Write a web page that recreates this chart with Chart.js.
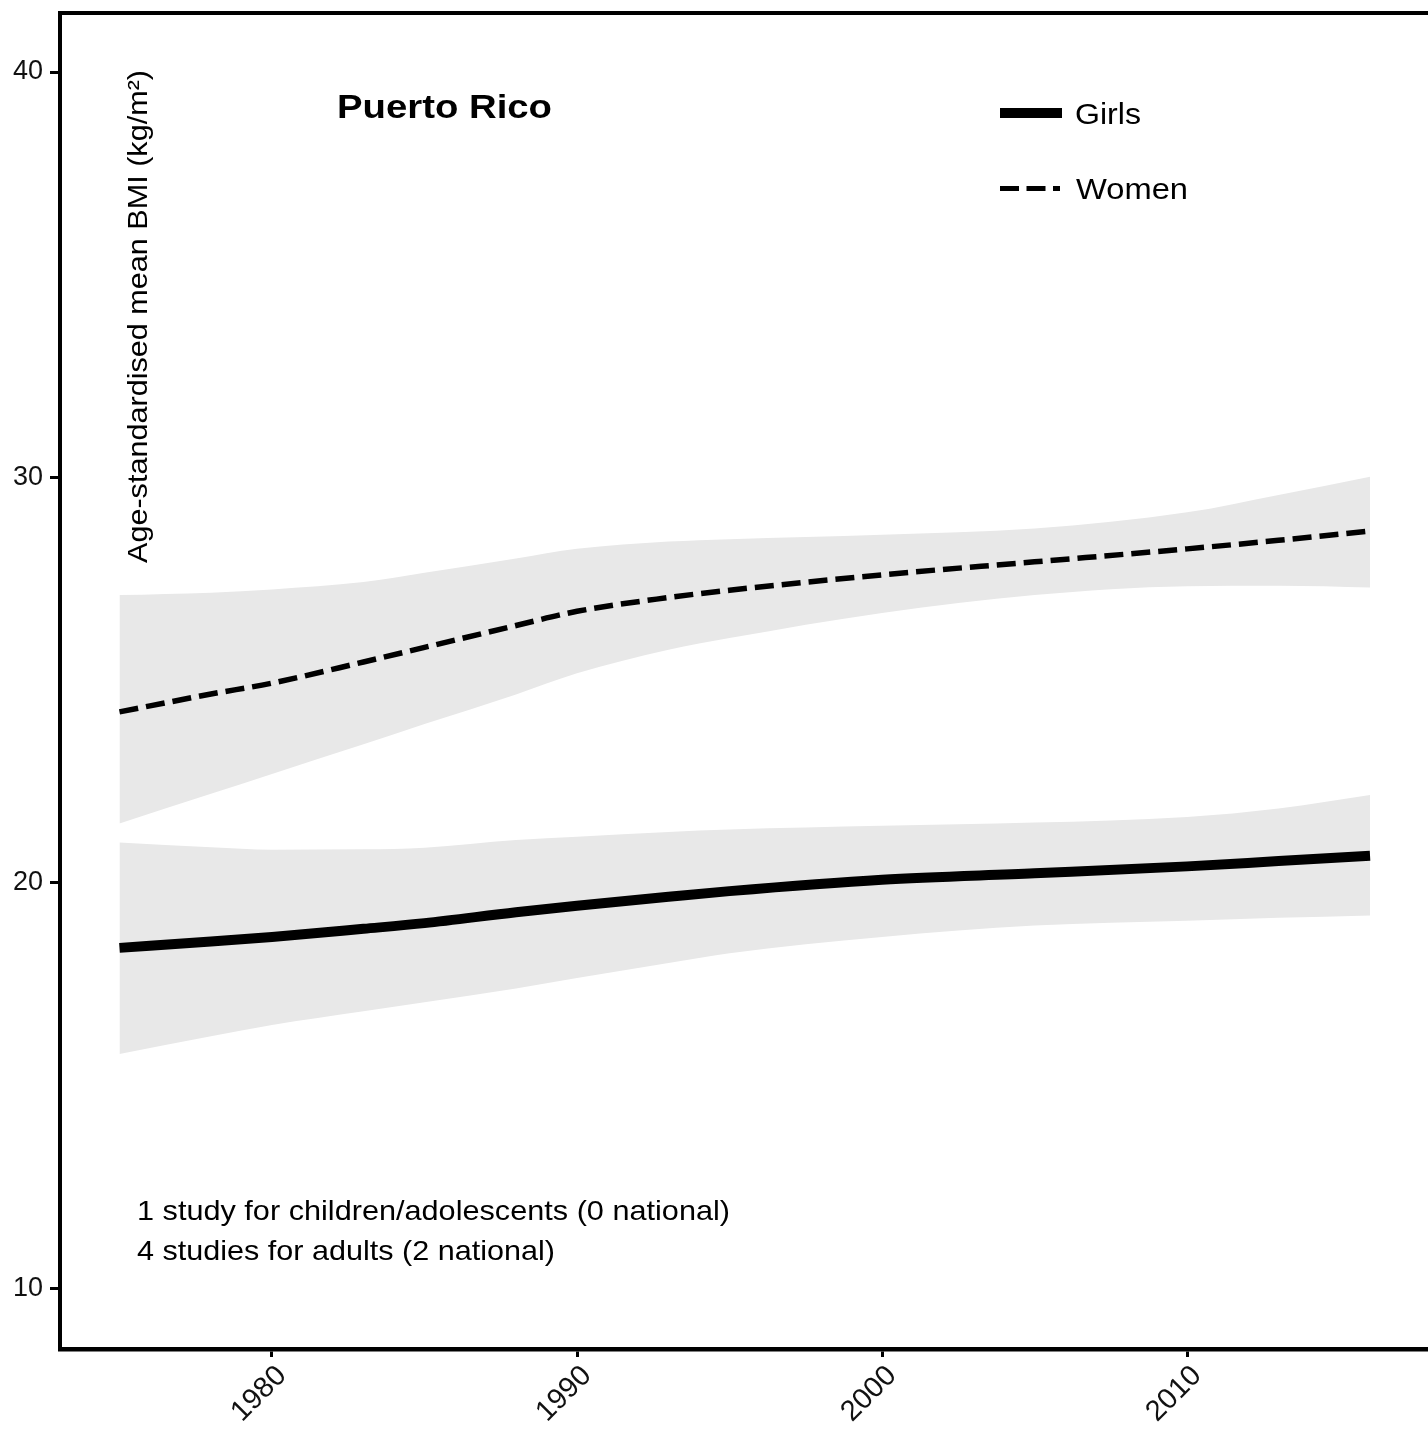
<!DOCTYPE html>
<html lang="en">
<head>
<meta charset="UTF-8">
<title>Puerto Rico - mean BMI</title>
<script src="https://cdn.jsdelivr.net/npm/chart.js@4.4.1/dist/chart.umd.min.js"></script>
<style>
  body{ margin:0; padding:0; background:#fff; }
  canvas{ display:block; }
</style>
</head>
<body>
<canvas id="bmi" width="1428" height="1453"></canvas>
<script>
// values
const years      = [1975, 1978, 1980, 1983, 1985, 1988, 1990, 1993, 1995, 2000, 2005, 2010, 2013, 2016];
const girlsMean  = [18.40, 18.56, 18.67, 18.87, 19.01, 19.28, 19.44, 19.66, 19.80, 20.08, 20.24, 20.41, 20.54, 20.67];
const girlsLow   = [15.78, 16.22, 16.50, 16.84, 17.06, 17.40, 17.66, 18.03, 18.27, 18.67, 18.95, 19.07, 19.14, 19.20];
const girlsHigh  = [21.00, 20.88, 20.82, 20.83, 20.87, 21.06, 21.14, 21.26, 21.32, 21.41, 21.49, 21.63, 21.84, 22.17];
const womenMean  = [24.22, 24.66, 24.93, 25.45, 25.81, 26.35, 26.70, 27.04, 27.22, 27.60, 27.92, 28.24, 28.45, 28.68];
const womenLow   = [21.47, 22.20, 22.69, 23.42, 23.92, 24.65, 25.17, 25.75, 26.04, 26.66, 27.10, 27.32, 27.33, 27.29];
const womenHigh  = [27.10, 27.16, 27.24, 27.42, 27.65, 28.00, 28.24, 28.42, 28.48, 28.59, 28.74, 29.14, 29.57, 30.02];
const xTicks = [1980, 1990, 2000, 2010];
const yTicks = [10, 20, 30, 40];
const seriesNames = ['Girls', 'Women'];
const country = 'Puerto Rico';
const yTitle = 'Age-standardised mean BMI (kg/m\u00B2)';
const notes = ['1 study for children/adolescents (0 national)', '4 studies for adults (2 national)'];

const FONT = '"Liberation Sans", Arial, Helvetica, sans-serif';
const band = '#e8e8e8';
const pts = arr => arr.map((v, i) => ({x: years[i], y: v}));

// draw text squeezed/stretched to a given width
function fitText(ctx, txt, x, y, w) {
    const sx = w / ctx.measureText(txt).width;
    ctx.save();
    ctx.translate(x, y);
    ctx.scale(sx, 1);
    ctx.fillText(txt, 0, 0);
    ctx.restore();
}

const extras = {
    id: 'extras',
    afterDraw(chart) {
        const ctx = chart.ctx;
        const a = chart.chartArea;
        ctx.save();
        // top frame line
        ctx.strokeStyle = '#000';
        ctx.lineWidth = 4;
        ctx.beginPath();
        ctx.moveTo(a.left - 2, a.top);
        ctx.lineTo(chart.width, a.top);
        ctx.stroke();

        ctx.fillStyle = '#000';
        ctx.textBaseline = 'alphabetic';
        ctx.textAlign = 'left';

        ctx.font = 'bold 34px ' + FONT;
        fitText(ctx, country, 337, 118, 215);

        // legend
        ctx.lineCap = 'butt';
        ctx.lineWidth = 10;
        ctx.beginPath(); ctx.moveTo(1000, 113); ctx.lineTo(1062, 113); ctx.stroke();
        ctx.lineWidth = 5;
        ctx.setLineDash([19, 7.5]);
        ctx.beginPath(); ctx.moveTo(1000, 188.5); ctx.lineTo(1060, 188.5); ctx.stroke();
        ctx.setLineDash([]);
        ctx.font = '29px ' + FONT;
        fitText(ctx, seriesNames[0], 1075, 124, 66);
        fitText(ctx, seriesNames[1], 1076, 199, 112);

        // study notes
        ctx.font = '28px ' + FONT;
        fitText(ctx, notes[0], 137, 1220, 593);
        fitText(ctx, notes[1], 137, 1260, 418);

        // y title inside the panel
        ctx.save();
        ctx.translate(147, 563);
        ctx.rotate(-Math.PI / 2);
        ctx.font = '28px ' + FONT;
        fitText(ctx, yTitle, 0, 0, 493);
        ctx.restore();
        ctx.restore();
    }
};

const hidden = {borderWidth: 0, borderColor: 'rgba(0,0,0,0)', pointRadius: 0, cubicInterpolationMode: 'monotone'};

new Chart(document.getElementById('bmi'), {
    type: 'line',
    data: {
        datasets: [
            {label: seriesNames[0], data: pts(girlsMean), borderColor: '#000', borderWidth: 10,
             pointRadius: 0, fill: false, cubicInterpolationMode: 'monotone'},
            {label: seriesNames[1], data: pts(womenMean), borderColor: '#000', borderWidth: 5.5,
             borderDash: [19, 8], pointRadius: 0, fill: false, cubicInterpolationMode: 'monotone'},
            Object.assign({data: pts(girlsLow), fill: false}, hidden),
            Object.assign({data: pts(girlsHigh), fill: '-1', backgroundColor: band}, hidden),
            Object.assign({data: pts(womenLow), fill: false}, hidden),
            Object.assign({data: pts(womenHigh), fill: '-1', backgroundColor: band}, hidden)
        ]
    },
    options: {
        responsive: false,
        animation: false,
        layout: {padding: {top: 13, left: 0, right: 0, bottom: 0}},
        plugins: {
            legend: {display: false},
            tooltip: {enabled: false},
            filler: {drawTime: 'beforeDatasetsDraw'}
        },
        scales: {
            x: {
                type: 'linear',
                min: 1973.05,
                max: 2017.9,
                afterBuildTicks: s => { s.ticks = xTicks.map(v => ({value: v})); },
                afterFit: s => { s.height = 104; s.paddingLeft = 0; s.paddingRight = 0; },
                grid: {display: true, drawOnChartArea: false, drawTicks: true, tickLength: 8, tickWidth: 3, tickColor: '#000'},
                border: {display: true, color: '#000', width: 4.5},
                ticks: {autoSkip: false, minRotation: 45, maxRotation: 45, padding: 2, labelOffset: 10, color: '#111',
                        font: {family: FONT, size: 29}, callback: v => String(v)}
            },
            y: {
                min: 8.508,
                max: 41.455,
                afterBuildTicks: s => { s.ticks = yTicks.map(v => ({value: v})); },
                afterFit: s => { s.width = 60; s.paddingTop = 0; s.paddingBottom = 0; },
                grid: {display: true, drawOnChartArea: false, drawTicks: true, tickLength: 10, tickWidth: 3, tickColor: '#000'},
                border: {display: true, color: '#000', width: 4},
                ticks: {padding: 7, color: '#111', font: {family: FONT, size: 27}, callback: v => String(v)}
            }
        }
    },
    plugins: [extras]
});
</script>
</body>
</html>
